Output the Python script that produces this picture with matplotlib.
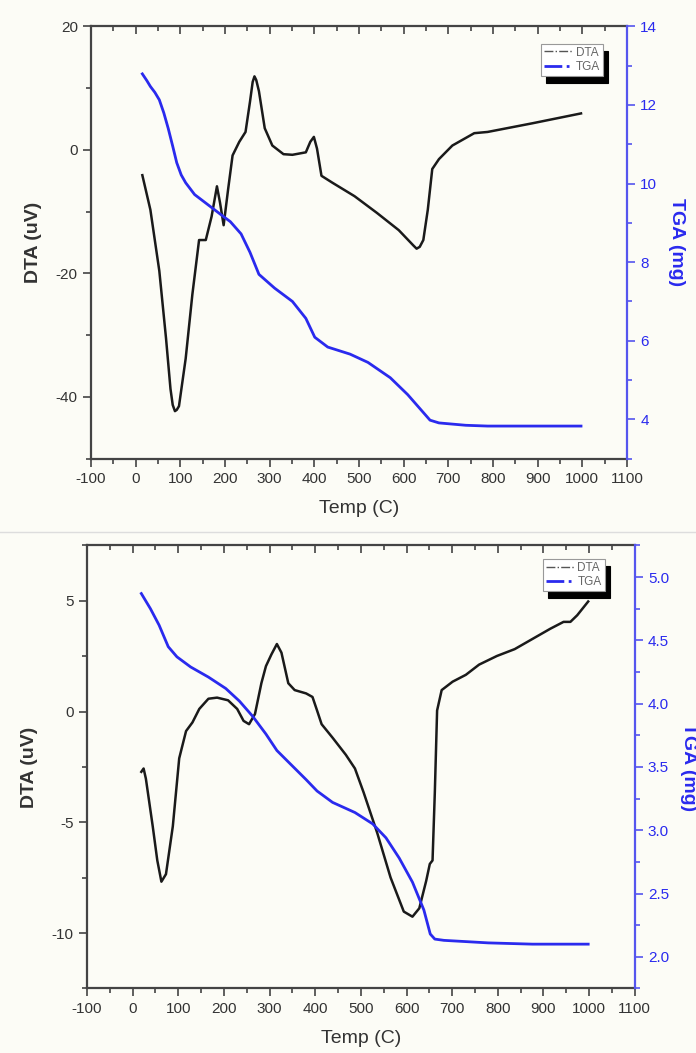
import matplotlib
matplotlib.use("Agg")
import matplotlib.pyplot as plt
from matplotlib.lines import Line2D
from matplotlib.ticker import MultipleLocator, NullFormatter

plt.rcParams["font.family"] = ["Liberation Sans", "DejaVu Sans"]
plt.rcParams["axes.unicode_minus"] = False

# ---- panel 1 data ----
dta1_t = [15, 33, 53, 68, 78, 83, 88, 92, 97, 112, 127, 142, 157, 170, 182,
          189, 197, 207, 217, 232, 246, 256, 262, 266, 270, 276, 289, 306, 331,
          351, 381, 391, 399, 406, 416, 440, 490, 540, 589, 622, 629, 636, 644,
          654, 664, 679, 709, 758, 788, 888, 997]
dta1_v = [-4.1, -9.7, -19.6, -30.5, -38.7, -41.3, -42.3, -42.1, -41.5, -33.8,
          -23.4, -14.6, -14.6, -10.8, -5.9, -8.6, -12.2, -6.4, -0.9, 1.3, 2.9,
          7.8, 11.0, 11.9, 11.3, 9.5, 3.5, 0.7, -0.7, -0.8, -0.4, 1.3, 2.1, 0.2,
          -4.2, -5.3, -7.5, -10.2, -13.0, -15.5, -16.0, -15.7, -14.6, -9.7,
          -3.1, -1.5, 0.7, 2.7, 2.9, 4.3, 5.9]
tga1_t = [15, 25, 33, 43, 53, 63, 73, 83, 92, 102, 112, 132, 162, 192, 212,
          236, 256, 276, 311, 351, 381, 401, 430, 480, 520, 570, 609, 639, 659,
          679, 739, 788, 997]
tga1_v = [12.79, 12.62, 12.47, 12.32, 12.13, 11.8, 11.4, 10.95, 10.53, 10.22,
          10.02, 9.72, 9.46, 9.2, 9.03, 8.72, 8.25, 7.69, 7.34, 7.0, 6.57, 6.09,
          5.84, 5.66, 5.45, 5.06, 4.63, 4.24, 3.98, 3.91, 3.85, 3.83, 3.83]

# ---- panel 2 data ----
dta2_t = [19, 24, 29, 44, 54, 63, 73, 88, 102, 117, 131, 146, 166, 185, 209,
          229, 243, 255, 268, 282, 292, 304, 316, 326, 341, 355, 380, 394, 404,
          414, 438, 467, 487, 506, 536, 565, 594, 613, 628, 643, 651, 657, 662,
          667, 677, 701, 730, 759, 798, 837, 876, 915, 944, 959, 974, 998]
dta2_v = [-2.72, -2.57, -3.03, -5.18, -6.72, -7.68, -7.34, -5.18, -2.11, -0.88,
          -0.49, 0.12, 0.58, 0.63, 0.51, 0.12, -0.42, -0.57, -0.11, 1.28, 2.05,
          2.58, 3.05, 2.66, 1.28, 0.97, 0.82, 0.66, 0.05, -0.57, -1.18, -1.95,
          -2.57, -3.65, -5.49, -7.49, -9.03, -9.26, -8.88, -7.65, -6.88, -6.72,
          -3.65, 0.05, 0.97, 1.35, 1.66, 2.12, 2.51, 2.82, 3.28, 3.74, 4.05,
          4.05, 4.35, 4.97]
tga2_t = [19, 39, 58, 78, 97, 127, 166, 204, 234, 263, 292, 316, 341, 380, 404,
          438, 487, 526, 555, 584, 613, 638, 652, 662, 682, 779, 876, 998]
tga2_v = [4.87, 4.75, 4.62, 4.45, 4.37, 4.29, 4.21, 4.12, 4.02, 3.90, 3.76,
          3.63, 3.54, 3.40, 3.31, 3.22, 3.14, 3.05, 2.94, 2.78, 2.59, 2.37,
          2.18, 2.14, 2.13, 2.11, 2.10, 2.10]

BG = "#fcfcf6"
TXT = "#333333"
BLUE = "#2a2aee"
SPINE_BLUE = "#5555ee"

fig = plt.figure(figsize=(6.96, 10.53), dpi=100, facecolor=BG)


def panel(rect, t1, v1, t2, v2, ylim1, ylim2, ystep1, ystep2, fmt2, leg_anchor):
    ax = fig.add_axes(rect)
    ax.set_facecolor(BG)
    ax2 = ax.twinx()
    ax.plot(t1, v1, color="#1a1a1a", lw=1.8, zorder=3)
    ax2.plot(t2, v2, color=BLUE, lw=2.0)
    ax.set_xlim(-100, 1100)
    ax.set_ylim(*ylim1)
    ax2.set_ylim(*ylim2)
    ax.xaxis.set_major_locator(MultipleLocator(100))
    ax.xaxis.set_minor_locator(MultipleLocator(50))
    ax.yaxis.set_major_locator(MultipleLocator(ystep1))
    ax.yaxis.set_minor_locator(MultipleLocator(ystep1 / 2))
    ax2.yaxis.set_major_locator(MultipleLocator(ystep2))
    ax2.yaxis.set_minor_locator(MultipleLocator(ystep2 / 2))
    ax2.yaxis.set_major_formatter(fmt2)

    for s in ["left", "top", "bottom"]:
        ax.spines[s].set_color("#444444")
        ax.spines[s].set_linewidth(1.6)
    ax.spines["right"].set_visible(False)
    for s in ["left", "top", "bottom"]:
        ax2.spines[s].set_visible(False)
    ax2.spines["right"].set_color(SPINE_BLUE)
    ax2.spines["right"].set_linewidth(1.6)

    ax.tick_params(axis="x", which="both", direction="out", colors="#444444",
                   labelcolor=TXT, labelsize=11, width=1.2)
    ax.tick_params(axis="x", which="major", length=6)
    ax.tick_params(axis="x", which="minor", length=3.5)
    ax.tick_params(axis="y", which="major", length=6, width=1.2,
                   colors="#444444", labelcolor=TXT, labelsize=11)
    ax.tick_params(axis="y", which="minor", length=3.5, width=1.2,
                   colors="#444444")
    ax2.tick_params(axis="y", which="major", length=6, width=1.2,
                    colors=SPINE_BLUE, labelcolor=BLUE, labelsize=11)
    ax2.tick_params(axis="y", which="minor", length=3.5, width=1.2,
                    colors=SPINE_BLUE)

    # top axis: ticks pointing into the plot, no labels
    top = ax.secondary_xaxis("top")
    top.spines["top"].set_visible(False)
    top.xaxis.set_major_locator(MultipleLocator(100))
    top.xaxis.set_minor_locator(MultipleLocator(50))
    top.xaxis.set_major_formatter(NullFormatter())
    top.tick_params(which="both", direction="in", colors="#444444", width=1.2)
    top.tick_params(which="major", length=6)
    top.tick_params(which="minor", length=3.5)

    ax.set_xlabel("Temp (C)", fontsize=14, color=TXT, labelpad=10)
    ax.set_ylabel("DTA (uV)", fontsize=14, color=TXT, fontweight="bold",
                  labelpad=10)
    ax2.set_ylabel("TGA (mg)", fontsize=14, color=BLUE, fontweight="bold",
                   rotation=270, labelpad=20)

    handles = [Line2D([], [], color="#555555", lw=1.0, ls="-."),
               Line2D([], [], color=BLUE, lw=2.0, ls="-.")]
    leg = ax.legend(handles, ["DTA", "TGA"], loc="upper right",
                    bbox_to_anchor=leg_anchor, frameon=True, fancybox=False,
                    shadow={"color": "black", "alpha": 1.0, "ox": 4, "oy": -5},
                    fontsize=8.5, handlelength=2.4, handletextpad=0.3,
                    borderpad=0.25, labelspacing=0.2, borderaxespad=0)
    leg.get_frame().set_edgecolor("#999999")
    leg.get_frame().set_linewidth(0.8)
    for t in leg.get_texts():
        t.set_color("#666666")
    return ax, ax2


panel([0.1307, 0.5644, 0.7702, 0.4106], dta1_t, dta1_v, tga1_t, tga1_v,
      (-50, 20), (3, 14), 20, 2, "{x:.0f}", (0.955, 0.96))
panel([0.125, 0.0613, 0.787, 0.4207], dta2_t, dta2_v, tga2_t, tga2_v,
      (-12.5, 7.5), (1.75, 5.25), 5, 0.5, "{x:.1f}", (0.945, 0.97))

fig.add_artist(Line2D([0.0, 1.0], [0.4948, 0.4948], color="#dddddd", lw=1.0))

fig.savefig("out.png", dpi=100, facecolor=BG)
